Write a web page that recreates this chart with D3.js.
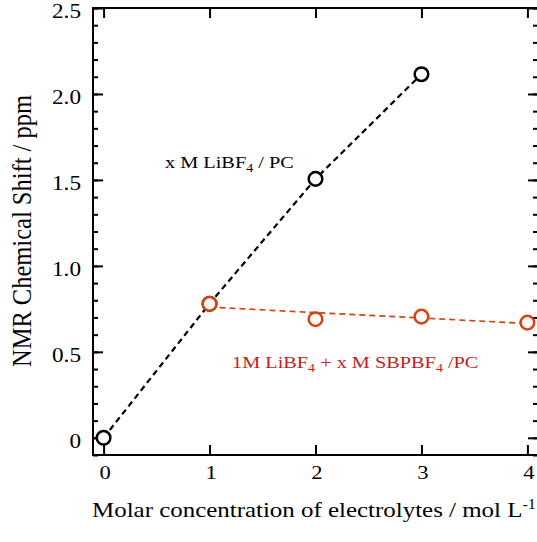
<!DOCTYPE html>
<html><head><meta charset="utf-8">
<script src="https://cdn.jsdelivr.net/npm/d3@7"></script>
<style>body{margin:0;background:#fff}svg{display:block}text{font-family:"Liberation Serif","Times New Roman",serif}</style>
</head><body>
<svg id="c" width="537" height="542"></svg>
<script>
const xTicks = [0, 1, 2, 3, 4];
const yTicks = [0, 0.5, 1.0, 1.5, 2.0, 2.5];
const yTickLabels = ["0", "0.5", "1.0", "1.5", "2.0", "2.5"];
const liX = [0, 1, 2, 3];
const liY = [0, 0.78, 1.506, 2.115];
const sbpX = [1, 2, 3, 4];
const sbpY = [0.779, 0.69, 0.705, 0.67];
const fitX = [1, 4];
const fitY = [0.76, 0.665];

const svg = d3.select("#c");
const x = d3.scaleLinear().domain([-0.1, 4.1]).range([93, 538]);
const y = d3.scaleLinear().domain([-0.1, 2.5]).range([455, 8]);
const black = "#000", orange = "#d4440f", textRed = "#c0231e";
const SX = 1.16;

// frame
svg.append("rect").attr("x", 93).attr("y", 8).attr("width", 445).attr("height", 447)
  .attr("fill", "none").attr("stroke", black).attr("stroke-width", 2);

// axes
const minor = d3.range(-0.1, 2.5001, 0.1).map(v => +v.toFixed(2));
const gL = svg.append("g").attr("transform", "translate(93,0)")
  .call(d3.axisRight(y).tickValues(minor).tickSize(5).tickFormat(""));
const gLM = svg.append("g").attr("transform", "translate(93,0)")
  .call(d3.axisRight(y).tickValues(yTicks).tickSize(10).tickFormat(""));
const gR = svg.append("g").attr("transform", "translate(538,0)")
  .call(d3.axisLeft(y).tickValues(minor).tickSize(5).tickFormat(""));
const gRM = svg.append("g").attr("transform", "translate(538,0)")
  .call(d3.axisLeft(y).tickValues(yTicks).tickSize(10).tickFormat(""));
const gB = svg.append("g").attr("transform", "translate(0,455)")
  .call(d3.axisTop(x).tickValues(xTicks).tickSize(10).tickFormat(""));
const gT = svg.append("g").attr("transform", "translate(0,8)")
  .call(d3.axisBottom(x).tickValues(xTicks).tickSize(10).tickFormat(""));
[gL, gLM, gR, gRM, gB, gT].forEach(g => {
  g.select(".domain").remove();
  g.selectAll("line").attr("stroke", black).attr("stroke-width", 2);
});

// tick labels (horizontally stretched like the reference)
svg.append("g").selectAll("text").data(yTicks).join("text")
  .attr("transform", d => `translate(81,${y(d) + 10}) scale(${SX},1)`)
  .attr("text-anchor", "end").attr("font-size", 20).text((d, i) => yTickLabels[i]);
svg.append("g").selectAll("text").data(xTicks).join("text")
  .attr("transform", d => `translate(${x(d) + 1.5},479) scale(${SX},1)`)
  .attr("text-anchor", "middle").attr("font-size", 19.5).text(d => d);

// axis titles
const xt = svg.append("text").attr("transform", `translate(314,517) scale(${SX},1)`)
  .attr("text-anchor", "middle").attr("font-size", 21.5);
xt.append("tspan").text("Molar concentration of electrolytes / mol L");
xt.append("tspan").attr("dy", -8).attr("font-size", 14).text("-1");
svg.append("text").attr("transform", "translate(31,231) rotate(-90) scale(1,1.12)")
  .attr("text-anchor", "middle").attr("font-size", 24.5).text("NMR Chemical Shift / ppm");

// lines
const line = d3.line().x(d => x(d[0])).y(d => y(d[1]));
svg.append("path").datum(liX.map((v, i) => [v, liY[i]])).attr("d", line)
  .attr("fill", "none").attr("stroke", black).attr("stroke-width", 2.2).attr("stroke-dasharray", "6,4");
svg.append("path").datum(fitX.map((v, i) => [v, fitY[i]])).attr("d", line)
  .attr("fill", "none").attr("stroke", orange).attr("stroke-width", 1.7).attr("stroke-dasharray", "6,4");

// markers
svg.append("g").selectAll("circle").data(liX.map((v, i) => [v, liY[i]])).join("circle")
  .attr("cx", d => x(d[0])).attr("cy", d => y(d[1])).attr("r", 6.8)
  .attr("fill", "#fff").attr("stroke", black).attr("stroke-width", 2.5);
svg.append("g").selectAll("circle").data(sbpX.map((v, i) => [v, sbpY[i]])).join("circle")
  .attr("cx", d => x(d[0])).attr("cy", d => y(d[1])).attr("r", 6.8)
  .attr("fill", "#fff").attr("stroke", orange).attr("stroke-width", 2.5);

// annotations
const a1 = svg.append("text").attr("transform", `translate(165,168) scale(${SX},1)`)
  .attr("font-size", 17.5).attr("fill", black);
a1.append("tspan").text("x M LiBF");
a1.append("tspan").attr("dy", 4).attr("font-size", 12).text("4");
a1.append("tspan").attr("dy", -4).text(" / PC");

const a2 = svg.append("text").attr("transform", `translate(232,368) scale(${SX},1)`)
  .attr("font-size", 17.5).attr("fill", textRed);
a2.append("tspan").text("1M LiBF");
a2.append("tspan").attr("dy", 4).attr("font-size", 12).text("4");
a2.append("tspan").attr("dy", -4).text(" + x M SBPBF");
a2.append("tspan").attr("dy", 4).attr("font-size", 12).text("4");
a2.append("tspan").attr("dy", -4).text(" /PC");
</script>
</body></html>
